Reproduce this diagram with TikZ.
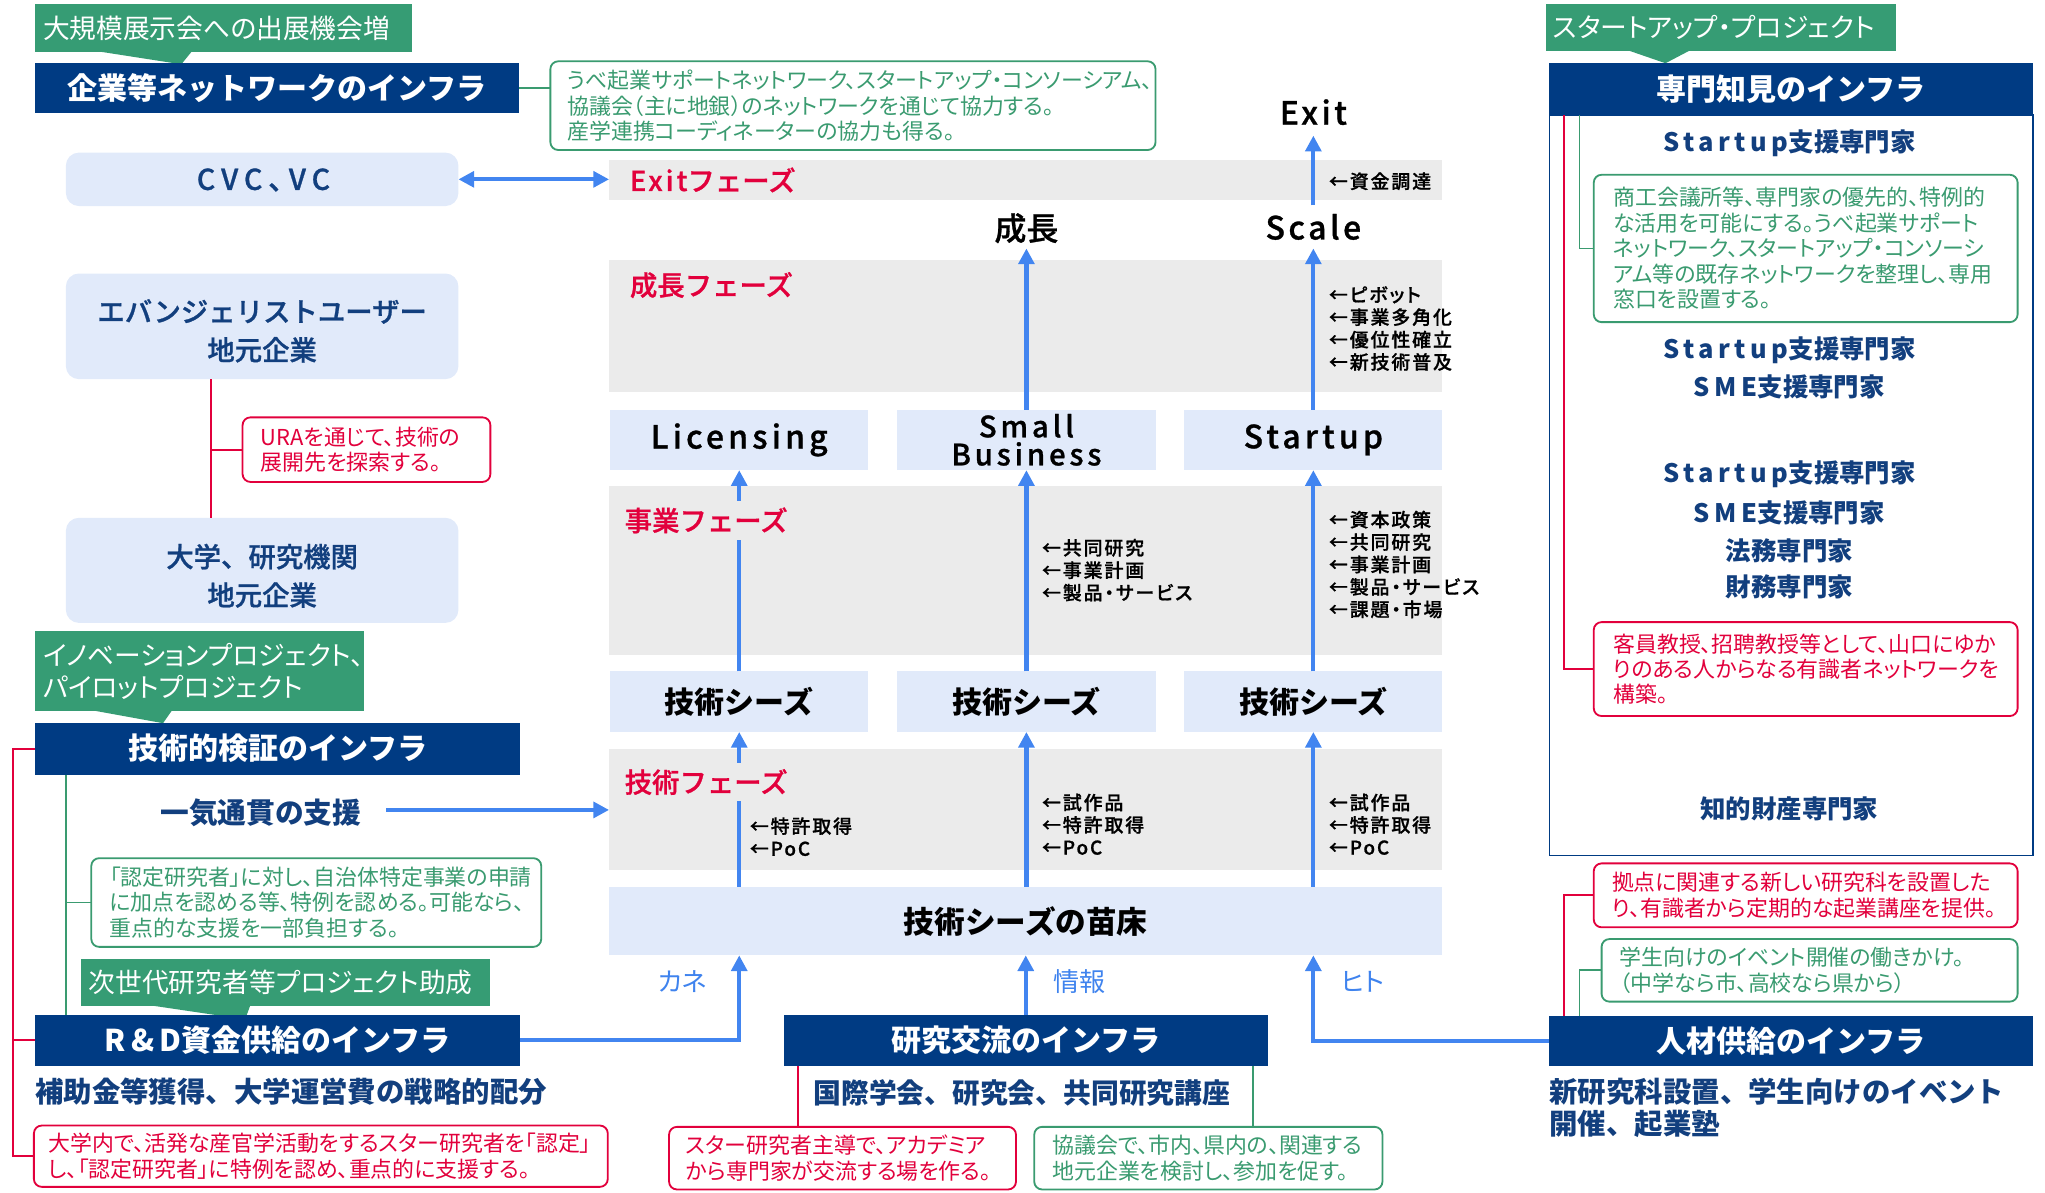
\documentclass[tikz,border=0pt]{standalone}
\usepackage{fontspec}
\setmainfont{Noto Sans CJK JP}[RawFeature=+palt]
\newfontfamily\jpn{Noto Sans CJK JP}
\newfontfamily\jps{Noto Sans CJK JP Medium}[FakeBold=0.9]
\usetikzlibrary{arrows.meta}
\definecolor{barblue}{HTML}{003B83}
\definecolor{taggreen}{HTML}{369C74}
\definecolor{ngreen}{HTML}{3A9B70}
\definecolor{nred}{HTML}{E2003C}
\definecolor{lblue}{HTML}{E1EAFA}
\definecolor{bandgray}{HTML}{EBEBEB}
\definecolor{ablue}{HTML}{4285F0}
\definecolor{dblue}{HTML}{123F7E}
\definecolor{fblue}{HTML}{3F83EE}
\newcommand\fsz[2]{\fontsize{#1}{#2}\selectfont}
\newcommand\ls[1]{{\addfontfeatures{LetterSpace=18}#1}}
\newcommand\lsb[1]{{\addfontfeatures{LetterSpace=11}#1}}
\newcommand\lso[1]{{\addfontfeatures{LetterSpace=13}#1}}
\begin{document}
\begin{tikzpicture}[x=1pt,y=-1pt,
  every node/.style={inner sep=0pt,outer sep=0pt},
  bar/.style={fill=barblue,text=white,font=\jpn\bfseries\fsz{23}{28},anchor=north west},
  tag/.style={fill=taggreen,text=white,font=\fsz{20.5}{24.5},anchor=north west,align=left,inner xsep=6pt},
  note/.style={draw,rounded corners=6pt,line width=1.4pt,fill=white,anchor=north west,align=left,font=\fsz{16.8}{19.5}},
  gnote/.style={note,draw=ngreen,text=ngreen},
  rnote/.style={note,draw=nred,text=nred},
  lbox/.style={fill=lblue,rounded corners=10pt,anchor=north west},
  ltext/.style={text=dblue,font=\jps\fsz{21}{29.5},align=center},
  bandbox/.style={fill=bandgray,anchor=north west},
  obox/.style={fill=lblue,anchor=north west,font=\jpn\bfseries\fsz{23}{21.5},align=center,minimum width=198pt,minimum height=46.5pt},
  phase/.style={text=nred,font=\jps\fsz{21}{25},fill=bandgray,anchor=west,inner xsep=2pt,inner ysep=5pt},
  ann/.style={font=\jps\fsz{14.5}{17.2}\addfontfeatures{RawFeature=+palt,LetterSpace=10},anchor=west,align=left},
  flow/.style={line width=3.2pt,draw=ablue,-{Triangle[length=12pt,width=12pt]}},
  gline/.style={draw=ngreen,line width=1.4pt},
  rline/.style={draw=nred,line width=1.4pt},
  expert/.style={text=dblue,font=\jpn\bfseries\fsz{19.5}{24}},
  flowlbl/.style={text=fblue,font=\fsz{20}{24}},
  big/.style={font=\jps\fsz{24.5}{28}},
  under/.style={text=dblue,font=\jpn\bfseries\fsz{21.8}{25}}
]
\useasboundingbox (0,0) rectangle (1568,914);

% ---------- central bands ----------
\node[bandbox,minimum width=639pt,minimum height=30pt] (exitb) at (467,123) {};
\node[bandbox,minimum width=639pt,minimum height=101pt] (growb) at (467,199.5) {};
\node[bandbox,minimum width=639pt,minimum height=129pt] (bizb) at (467,373) {};
\node[bandbox,minimum width=639pt,minimum height=92.5pt] (techb) at (467,574.5) {};

% ---------- outcome / seeds / nursery ----------
\node[obox,font=\jps\fsz{24.5}{28}] (lic) at (467.8,314) {\lso{Licensing}};
\node[obox,font=\jps\fsz{22.5}{21.5}] (smb) at (688,314) {\lso{Small}\\\lso{Business}};
\node[obox,font=\jps\fsz{24.5}{28}] (stu) at (908,314) {\lso{Startup}};
\node[obox] (seedL) at (467.8,514.7) {技術シーズ};
\node[obox] (seedM) at (688,514.7) {技術シーズ};
\node[obox] (seedR) at (908,514.7) {技術シーズ};
\node[obox,minimum width=639pt,minimum height=52.5pt,font=\jpn\bfseries\fsz{23.5}{28}] (nae) at (467,680) {技術シーズの苗床};

% ---------- top labels ----------
\node[big,minimum height=36pt] (exitl) at (1007,86) {\lsb{Exit}};
\node[big,minimum height=31pt] (seicho) at (787,175) {成長};
\node[big,minimum height=33pt] (scale) at (1007,174) {\lsb{Scale}};

% ---------- flow arrows ----------
\draw[flow] (scale.north) -- (exitl.south);
\draw[flow] (smb.north) -- (seicho.south);
\draw[flow] (stu.north) -- (scale.south);
\draw[flow] (seedL.north) -- (lic.south);
\draw[flow] (seedM.north) -- (smb.south);
\draw[flow] (seedR.north) -- (stu.south);
\draw[flow] (nae.north -| seedL) -- (seedL.south);
\draw[flow] (nae.north -| seedM) -- (seedM.south);
\draw[flow] (nae.north -| seedR) -- (seedR.south);

% ---------- phase labels ----------
\node[phase] (ph1) at (481,138) {\lsb{Exit}フェーズ};
\node[phase] (ph2) at (481,218.6) {成長フェーズ};
\node[phase] (ph3) at (477,399) {事業フェーズ};
\node[phase] (ph4) at (477,599.6) {技術フェーズ};

% ---------- annotations ----------
\node[ann] (a1) at (1019,139) {←資金調達};
\node[ann] (a2) at (1019,251.9) {←ピボット\\←事業多角化\\←優位性確立\\←新技術普及};
\node[ann] (a3) at (799,437.2) {←共同研究\\←事業計画\\←製品・サービス};
\node[ann] (a4) at (1019,432.8) {←資本政策\\←共同研究\\←事業計画\\←製品・サービス\\←課題・市場};
\node[ann] (a5) at (575,641.5) {←特許取得\\←PoC};
\node[ann] (a6) at (799,632) {←試作品\\←特許取得\\←PoC};
\node[ann] (a7) at (1019,632) {←試作品\\←特許取得\\←PoC};

% ---------- left column ----------
\node[tag,text width=277pt,minimum height=37pt] (t1) at (27,3) {大規模展示会への出展機会増};
\fill[taggreen] (76,39.5) -- (139,49.3) -- (147,39.5) -- cycle;
\node[bar,minimum width=371pt,minimum height=39pt] (b1) at (27,48) {企業等ネットワークのインフラ};
\node[gnote,inner xsep=13pt,text width=438pt,minimum height=68pt] (n1) at (422,47) {うべ起業サポートネットワーク、スタートアップ・コンソーシアム、\\協議会（主に地銀）のネットワークを通じて協力する。\\産学連携コーディネーターの協力も得る。};
\draw[gline] (b1.east) -- (b1.east -| n1.west);

\node[lbox,minimum width=301pt,minimum height=41pt] (cvc) at (50.5,117) {};
\node[ltext,font=\jps\fsz{22}{26}\addfontfeatures{RawFeature=+palt,LetterSpace=21}] (cvct) at (202,138) {CVC、VC};
\draw[line width=3.2pt,draw=ablue,{Triangle[length=12pt,width=12pt]}-{Triangle[length=12pt,width=12pt]}] (cvc.east) -- (cvc.east -| exitb.west);

\node[lbox,minimum width=301pt,minimum height=81pt] (evan) at (50.5,209.7) {};
\node[ltext] (evant) at (201,253.7) {エバンジェリストユーザー\\地元企業};
\node[lbox,minimum width=301pt,minimum height=80.6pt] (univ) at (50.5,397) {};
\node[ltext] (univt) at (201,441.5) {大学、研究機関\\地元企業};
\node[rnote,inner xsep=14pt,text width=162pt,minimum height=49.5pt] (n2) at (186,320) {URAを通じて、技術の\\展開先を探索する。};
\coordinate (rx1) at (162,0);
\draw[rline] (evan.south -| rx1) -- (univ.north -| rx1);
\draw[rline] (n2.west -| rx1) -- (n2.west);

\node[tag,text width=240pt,minimum height=61pt] (t2) at (27,484) {イノベーションプロジェクト、\\パイロットプロジェクト};
\fill[taggreen] (70,544.5) -- (125,554.5) -- (132,544.5) -- cycle;
\node[bar,minimum width=372pt,minimum height=40pt] (b2) at (27,554) {技術的検証のインフラ};

\node[under,font=\jpn\bfseries\fsz{22}{26}] (ikki) at (200,623) {一気通貫の支援};
\draw[flow] ([xshift=19pt]ikki.east |- 0,621) -- (techb.west |- 0,621);

\node[gnote,inner xsep=14pt,text width=317pt,minimum height=68pt] (n3) at (70,658) {「認定研究者」に対し、自治体特定事業の申請\\に加点を認める等、特例を認める。可能なら、\\重点的な支援を一部負担する。};

\node[tag,text width=302pt,minimum height=36pt] (t3) at (62,735) {次世代研究者等プロジェクト助成};
\fill[taggreen] (113,770.5) -- (188,781.6) -- (192,770.5) -- cycle;
\node[bar,minimum width=372pt,minimum height=39pt] (b3) at (27,778) {\ls{R\&D}資金供給のインフラ};

\coordinate (gx1) at (50.7,0);
\draw[gline] (b2.south -| gx1) -- (b3.north -| gx1);
\draw[gline] (n3.west -| gx1) -- (n3.west);

\node[under,anchor=west] (u1) at (27,837) {補助金等獲得、大学運営費の戦略的配分};
\node[rnote,inner xsep=11pt,text width=418pt,minimum height=47pt] (n4) at (26,863) {大学内で、活発な産官学活動をするスター研究者を「認定」\\し、「認定研究者」に特例を認め、重点的に支援する。};
\coordinate (rx0) at (10,0);
\draw[rline] (b2.west) -| (rx0 |- n4.west) -- (n4.west);
\draw[rline] (rx0 |- b3.west) -- (b3.west);

% ---------- bottom middle ----------
\node[bar,minimum width=371pt,minimum height=39pt] (b4) at (601,778) {研究交流のインフラ};
\node[under,font=\jpn\bfseries\fsz{21.3}{25}] (u2) at (783.5,838) {国際学会、研究会、共同研究講座};
\node[rnote,inner xsep=13pt,text width=240pt,minimum height=48pt] (n5) at (513,864) {スター研究者主導で、アカデミア\\から専門家が交流する場を作る。};
\node[gnote,inner xsep=14pt,text width=239pt,minimum height=48pt] (n6) at (793,864) {協議会で、市内、県内の、関連する\\地元企業を検討し、参加を促す。};
\coordinate (rx2) at (612,0);
\coordinate (gx2) at (961,0);
\draw[rline] (b4.south -| rx2) -- (n5.north -| rx2);
\draw[gline] (b4.south -| gx2) -- (n6.north -| gx2);

\draw[flow] (b3.east) -| (nae.south -| seedL);
\draw[flow] (b4.north) -- (nae.south -| b4.north);

\node[flowlbl] (kane) at (523.5,753) {カネ};
\node[flowlbl] (joho) at (827.5,753) {情報};
\node[flowlbl] (hito) at (1045,753) {ヒト};

% ---------- right column ----------
\node[tag,text width=257pt,minimum height=36pt] (t4) at (1185,3) {スタートアップ・プロジェクト};
\fill[taggreen] (1248,38.5) -- (1277,48.5) -- (1296,38.5) -- cycle;
\node[bar,minimum width=371pt,minimum height=40pt] (b6) at (1188,48) {専門知見のインフラ};
\node[draw=barblue,line width=1.3pt,anchor=north west,minimum width=371pt,minimum height=568pt] (panel) at (1188,88) {};

\node[expert] (e1) at (1372,110) {\ls{Startup}支援専門家};
\node[gnote,inner xsep=15pt,text width=295pt,minimum height=113pt] (n7) at (1222,134) {商工会議所等、専門家の優先的、特例的\\な活用を可能にする。うべ起業サポート\\ネットワーク、スタートアップ・コンソーシ\\アム等の既存ネットワークを整理し、専用\\窓口を設置する。};
\node[expert] (e2) at (1372,268.5) {\ls{Startup}支援専門家};
\node[expert] (e3) at (1372,296.6) {\ls{SME}支援専門家};
\node[expert] (e4) at (1372,364) {\ls{Startup}支援専門家};
\node[expert] (e5) at (1372,393) {\ls{SME}支援専門家};
\node[expert] (e6) at (1372,422) {法務専門家};
\node[expert] (e7) at (1372,450) {財務専門家};
\node[rnote,inner xsep=15pt,text width=295pt,minimum height=72pt] (n8) at (1222,477) {客員教授、招聘教授等として、山口にゆか\\りのある人からなる有識者ネットワークを\\構築。};
\node[expert] (e8) at (1372,620) {知的財産専門家};
\coordinate (rx3) at (1199,0);
\coordinate (gx3) at (1211,0);
\draw[rline] (b6.south -| rx3) |- (n8.west);
\draw[gline] (b6.south -| gx3) |- (n7.west);

\node[rnote,inner xsep=14pt,text width=297pt,minimum height=49pt] (n9) at (1222,662) {拠点に関連する新しい研究科を設置した\\り、有識者から定期的な起業講座を提供。};
\node[gnote,inner xsep=14pt,text width=291pt,minimum height=48pt] (n10) at (1228,720) {学生向けのイベント開催の働きかけ。\\（中学なら市、高校なら県から）};
\node[bar,minimum width=371pt,minimum height=38pt] (b5) at (1188,779) {人材供給のインフラ};
\draw[rline] (b5.north -| rx3) |- (n9.west);
\draw[gline] (b5.north -| gx3) |- (n10.west);
\draw[flow] (b5.west) -| (nae.south -| seedR);

\node[under,anchor=west,align=left] (u3) at (1188,849.5) {新研究科設置、学生向けのイベント\\開催、起業塾};

\end{tikzpicture}
\end{document}
